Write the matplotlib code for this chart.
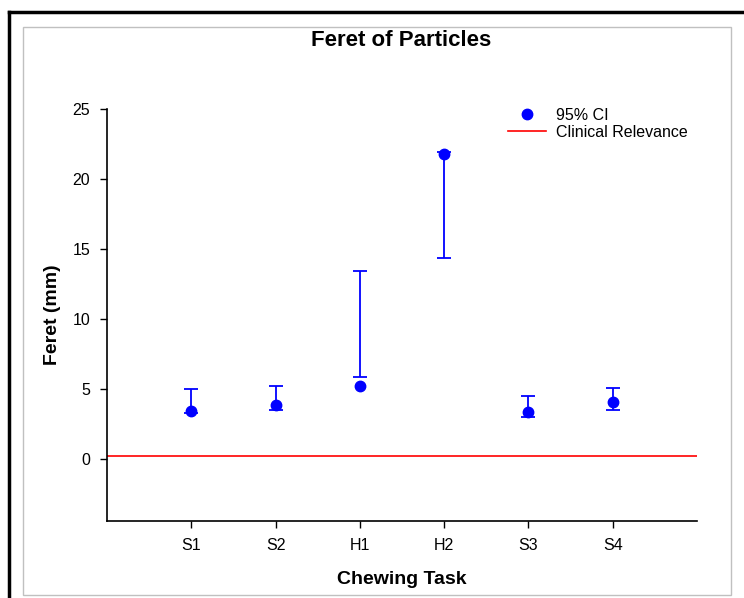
import matplotlib
matplotlib.use("Agg")
import matplotlib.pyplot as plt
from matplotlib.lines import Line2D
from matplotlib.patches import Rectangle
import numpy as np

plt.rcParams['font.family'] = ['Liberation Sans', 'DejaVu Sans']

tasks = ["S1", "S2", "H1", "H2", "S3", "S4"]
means = [3.45, 3.85, 5.2, 21.8, 3.35, 4.1]
ci_low = [3.3, 3.5, 5.9, 14.4, 3.0, 3.55]
ci_high = [5.0, 5.2, 13.45, 21.9, 4.55, 5.1]
clinical = 0.25

W, H = 744, 598
fig = plt.figure(figsize=(W / 100, H / 100), dpi=100)
ax = fig.add_axes([107 / W, 1 - 521 / H, (697 - 107) / W, (521 - 109) / H])

x = np.arange(1, len(tasks) + 1)
lo = np.array(ci_low)
hi = np.array(ci_high)
mid = (lo + hi) / 2
err = (hi - lo) / 2
ax.errorbar(x, mid, yerr=err, fmt='none', ecolor='#0000ff', elinewidth=1.3,
            capsize=4.8, capthick=1.3, zorder=2)
ax.plot(x, means, 'o', color='#0000ff', markersize=7.5, zorder=3, label='95% CI')
ax.axhline(clinical, color='#ff0000', linewidth=1.2, zorder=1, label='Clinical Relevance')

ax.set_xlim(0, 7)
ax.set_ylim(-4.4, 25)
ax.set_xticks(x)
ax.set_xticklabels(tasks)
ax.set_yticks([0, 5, 10, 15, 20, 25])
ax.tick_params(axis='both', direction='out', length=5, width=1, labelsize=11.5, pad=7)
ax.spines['top'].set_visible(False)
ax.spines['right'].set_visible(False)
for s in ('left', 'bottom'):
    ax.spines[s].set_linewidth(1.2)

fig.text(401 / W, 1 - 40 / H, "Feret of Particles", fontsize=16, fontweight='bold',
         ha='center', va='center')
ax.set_ylabel("Feret (mm)", fontsize=14, fontweight='bold', labelpad=8)
ax.set_xlabel("Chewing Task", fontsize=14, fontweight='bold', labelpad=13)

leg = ax.legend(loc='upper left', bbox_to_anchor=(508 / W, 1 - 108 / H),
                bbox_transform=fig.transFigure, frameon=False,
                fontsize=11.5, handlelength=2.4, handletextpad=0.6,
                labelspacing=0.1, borderaxespad=0.0, borderpad=0.0)

# outer frame lines
fig.add_artist(Line2D([9 / W, 9 / W], [1 - 12 / H, 0], color='black', linewidth=2.5,
                      transform=fig.transFigure))
fig.add_artist(Line2D([9 / W, 1], [1 - 12 / H, 1 - 12 / H], color='black', linewidth=2.5,
                      transform=fig.transFigure))
fig.add_artist(Rectangle((23 / W, 1 - 595 / H), (731 - 23) / W, (595 - 27) / H,
                         fill=False, edgecolor='#c0c0c0', linewidth=1,
                         transform=fig.transFigure))

fig.savefig("out.png", dpi=100)
